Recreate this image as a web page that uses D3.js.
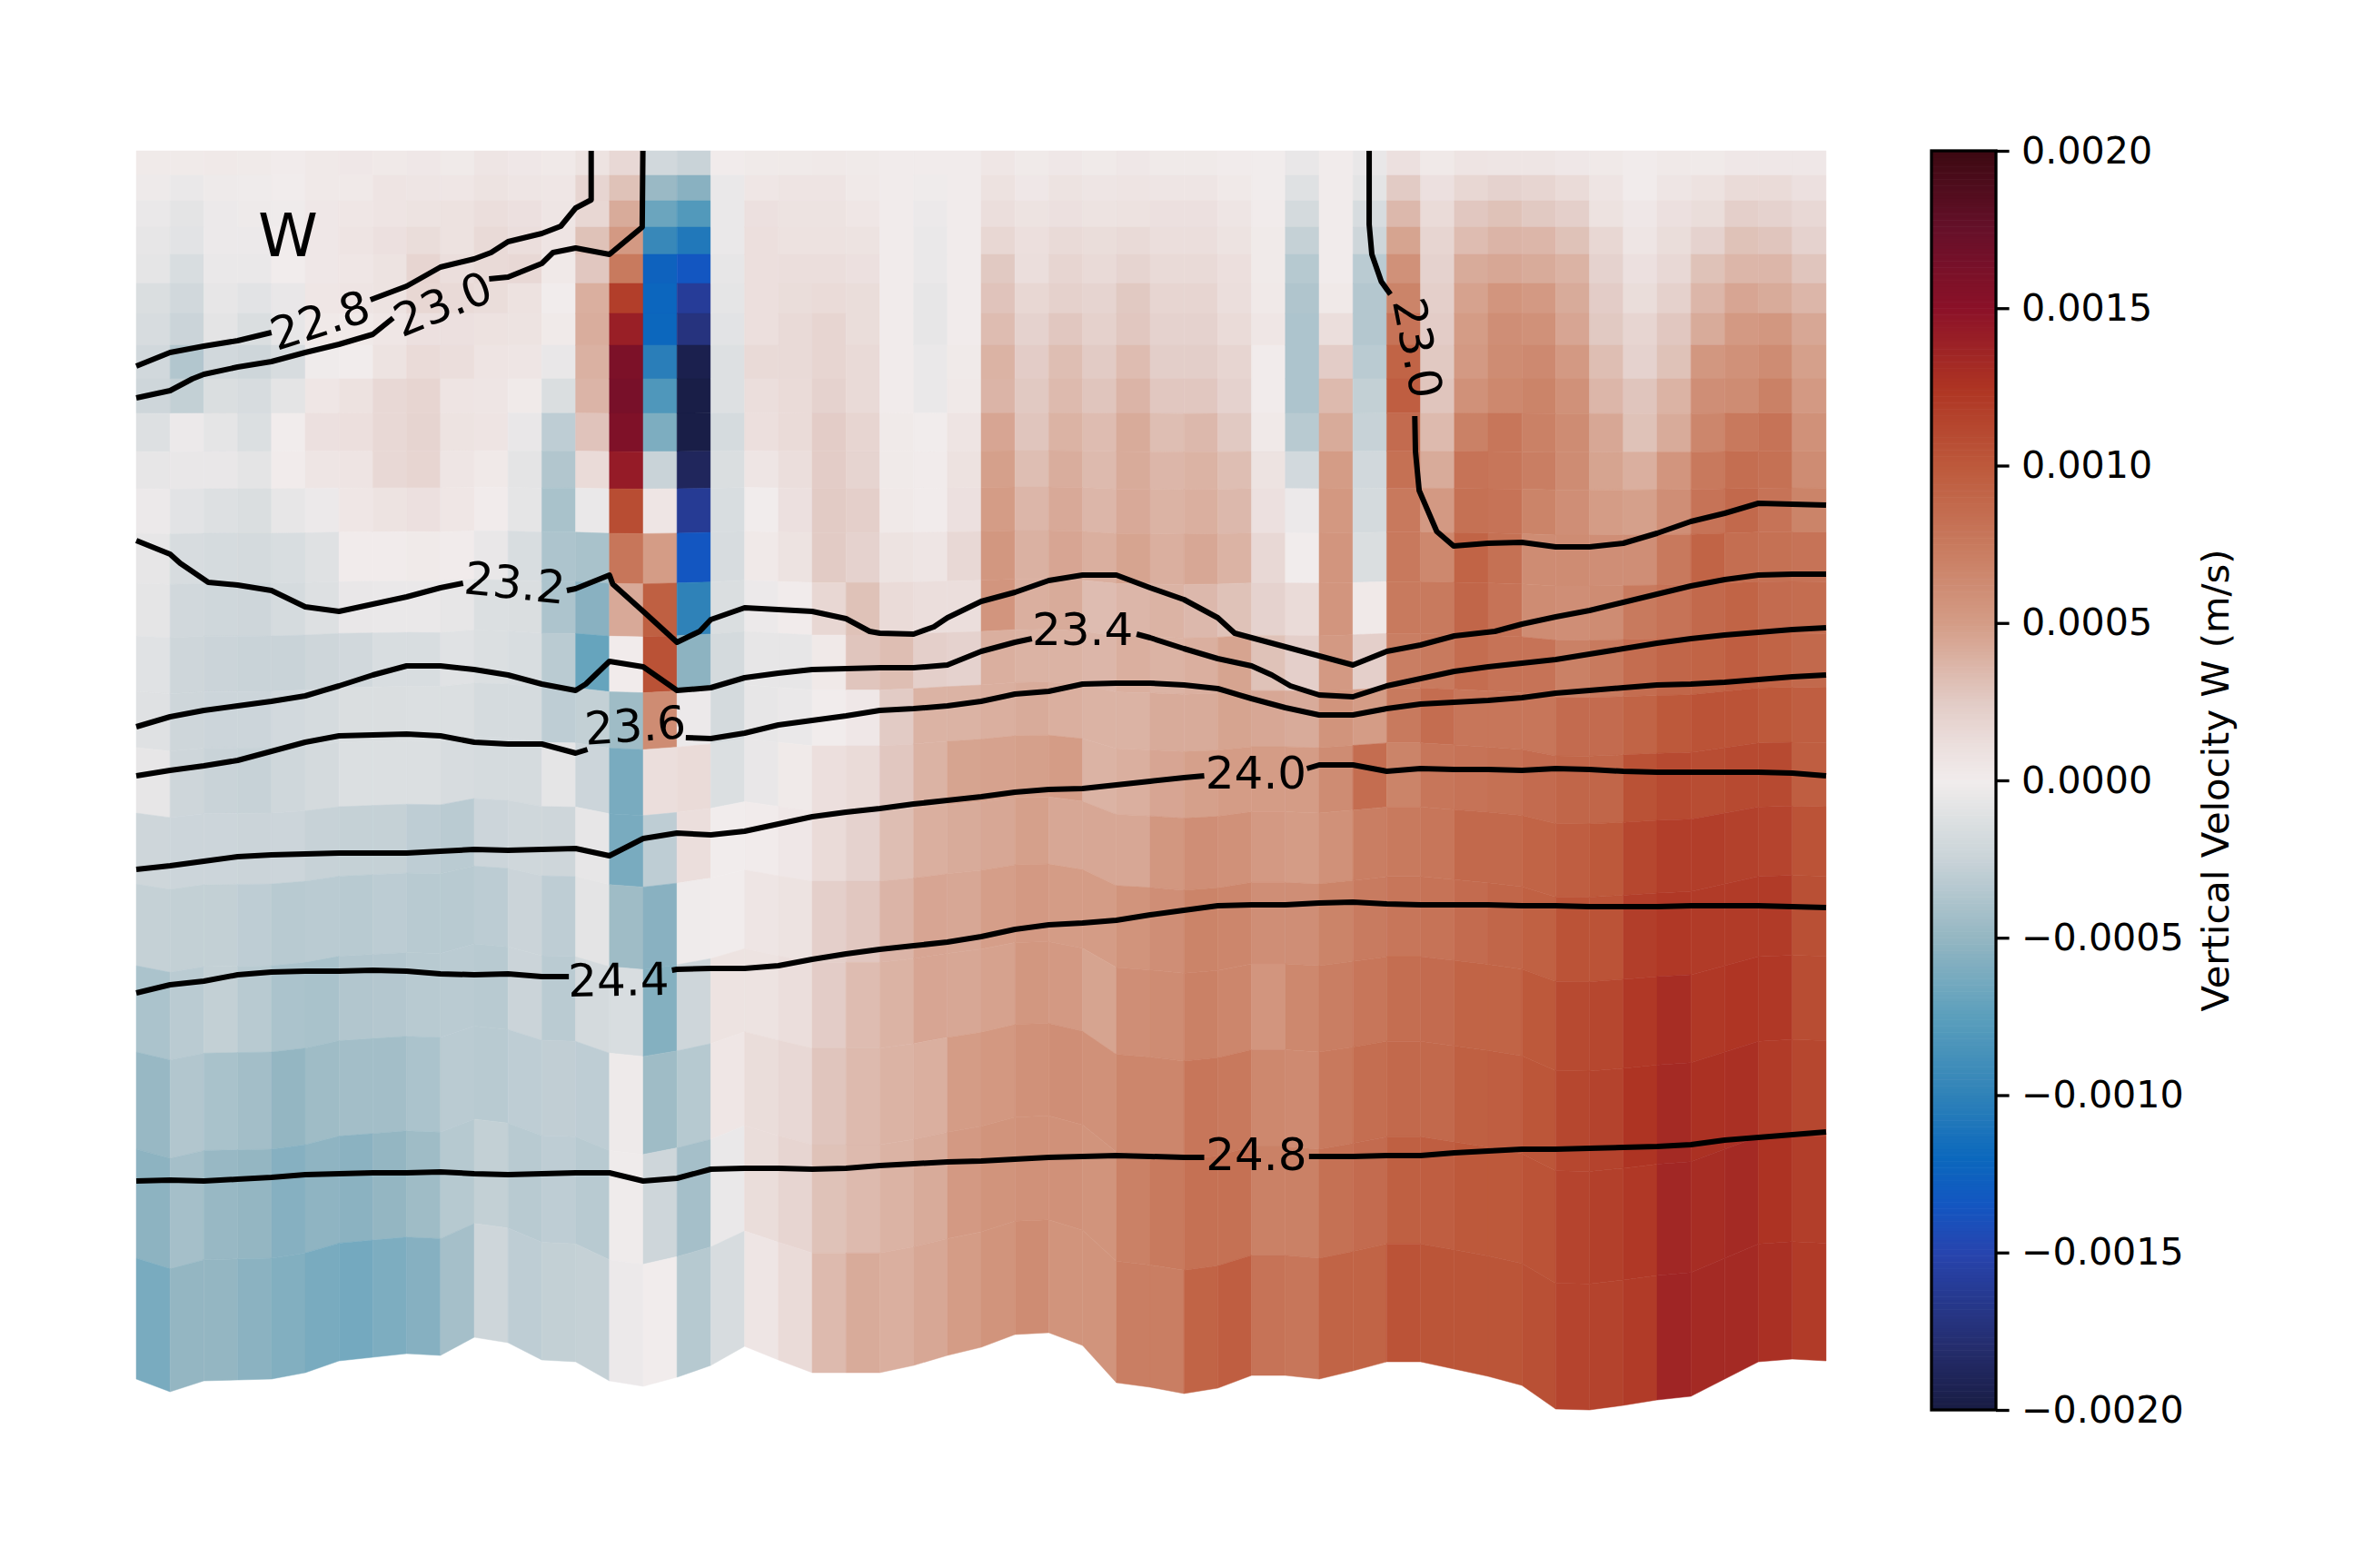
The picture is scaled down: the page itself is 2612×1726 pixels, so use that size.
<!DOCTYPE html>
<html>
<head>
<meta charset="utf-8">
<style>
body { margin: 0; background: white; }
text { font-family: "DejaVu Sans", sans-serif; fill: black; }
</style>
</head>
<body>
<svg id="chart"></svg>
<script src="https://cdn.jsdelivr.net/npm/d3@7"></script>
<script>
// Dimensions
const width = 2612;
const height = 1726;
const margin = { top: 166, right: 602, bottom: 174, left: 150 };
const bar = { left: 2126, right: 2197 };

// Bottom of the section at each column edge
const bottomDepth = [1352,1366,1354,1353,1352,1345,1332,1328,1324,1326,1306,1312,1331,1333,1354,1360,1350,1337,1316,1331,1345,1345,1345,1337,1326,1317,1303,1301,1315,1356,1361,1368,1362,1348,1348,1352,1343,1333,1333,1341,1349,1359,1385,1386,1381,1375,1371,1352,1333,1330,1332];

// Model levels: depth over a reference bottom, and how much each one follows the bottom
const levelDepth = [0,27,55,84,114,146,179,214,251,289,331,372,421,476,534,595,657,729,807,897,992,1099,1219,1352];
const levelFollow = [0,0,0,0,0,0,0,0,0,0.01,0.02,0.04,0.06,0.09,0.14,0.2,0.27,0.35,0.43,0.52,0.62,0.72,0.83,1];
const refBottom = 1352;

// Vertical velocity per column, top row first, in 1e-5 m/s
const wColumns = [
[2,-2,-4,-6,-7,-14,-16,-20,-22,-12,-6,-3,-6,-7,-10,-11,-6,-22,-27,-39,-48,-53,-62],
[2,-4,-8,-9,-15,-20,-24,-36,-28,-3,-5,-9,-16,-20,-22,-22,-22,-23,-28,-32,-36,-42,-50],
[3,-2,-3,-3,-4,-6,-8,-20,-14,-7,-5,-12,-17,-21,-24,-23,-25,-23,-28,-28,-40,-48,-50],
[2,-1,-2,-3,-4,-9,-14,-22,-16,-13,-8,-14,-18,-22,-25,-23,-26,-24,-30,-33,-43,-50,-54],
[1,0,-1,0,0,-5,-6,-16,-8,0,1,-6,-15,-17,-25,-19,-21,-23,-33,-39,-50,-56,-58],
[3,3,4,4,4,5,3,-1,5,10,6,-3,-11,-12,-22,-17,-18,-26,-32,-40,-45,-52,-62],
[4,3,5,7,5,7,3,0,9,11,7,5,1,-5,-20,-14,-13,-27,-33,-36,-43,-54,-64],
[3,7,7,10,8,8,5,8,16,16,16,8,1,-4,-15,-14,-13,-27,-31,-35,-43,-50,-60],
[4,6,8,13,18,17,10,14,18,19,18,10,2,-4,-15,-13,-13,-30,-33,-33,-39,-45,-56],
[2,5,9,9,12,15,10,12,7,8,6,5,1,-6,-10,-13,-16,-32,-33,-32,-32,-34,-42],
[6,8,12,15,15,13,9,7,6,7,3,1,-5,-13,-13,-17,-17,-23,-31,-33,-33,-28,-22],
[4,6,10,12,16,9,8,6,2,-5,-8,-7,-15,-14,-15,-17,-17,-21,-24,-24,-30,-33,-30],
[3,5,6,7,3,0,2,-5,-14,-30,-36,-40,-38,-38,-32,-30,-7,-22,-30,-32,-29,-30,-28],
[8,18,17,30,27,40,41,39,37,29,14,-4,-40,-55,-70,-28,-23,-6,-8,-18,-30,-33,-27],
[16,30,42,52,75,118,140,160,163,158,143,108,78,43,1,-45,-62,-62,-45,-15,-2,-1,-3],
[-20,-47,-68,-95,-125,-122,-121,-103,-82,-60,-25,6,50,95,105,62,12,-30,-55,-57,-45,-22,0],
[-25,-55,-80,-108,-135,-160,-172,-195,-198,-198,-188,-162,-135,-100,-53,-3,14,12,-1,-22,-34,-42,-34],
[1,-4,-4,-4,-6,-7,-9,-12,-12,-17,-14,-15,-16,-14,-18,-18,-13,0,0,8,5,-4,-16],
[2,5,10,11,11,11,11,15,12,11,6,0,3,-3,-6,-6,-5,1,6,8,13,13,6],
[2,7,8,9,12,13,15,15,14,14,12,10,8,1,-6,-4,2,4,8,12,16,18,14],
[3,7,8,9,12,14,18,18,20,24,24,25,25,17,3,0,11,14,22,24,28,30,34],
[2,3,5,8,10,13,13,15,15,18,19,22,20,30,28,4,14,20,27,33,34,34,42],
[1,1,1,1,1,1,1,1,1,2,2,3,8,14,32,25,27,32,37,38,38,38,40],
[1,-1,-3,-4,-4,-6,-6,-4,-4,0,1,1,6,12,22,38,38,40,45,45,40,42,44],
[1,1,1,1,1,1,1,2,3,7,9,10,16,12,20,38,46,42,44,44,50,52,50],
[5,9,12,17,26,29,33,38,37,45,48,50,54,55,40,40,47,44,49,47,53,56,56],
[2,4,8,11,12,17,20,24,26,28,32,36,39,40,38,42,48,48,52,54,58,58,62],
[4,8,10,15,18,21,27,32,34,38,41,43,45,42,38,40,50,44,50,52,60,58,56],
[2,6,8,13,15,19,21,25,28,33,34,36,40,33,36,38,38,44,50,46,58,56,56],
[4,7,9,15,19,26,27,33,37,42,42,43,46,36,40,38,40,44,56,60,66,70,72],
[2,6,10,12,15,18,20,23,27,32,36,38,40,38,38,42,45,54,60,62,66,75,72],
[2,6,10,12,15,18,20,23,27,35,38,40,44,35,40,42,48,60,68,70,78,82,92],
[1,3,6,8,11,12,14,18,20,26,32,35,38,30,46,46,50,58,66,66,76,82,96],
[0,0,1,2,2,3,5,1,1,3,8,10,16,20,30,44,50,52,60,55,65,70,80],
[-5,-11,-18,-27,-34,-37,-38,-38,-38,-33,-19,-3,0,14,22,42,50,50,60,65,63,70,78],
[1,1,1,1,1,3,12,24,34,42,50,53,55,55,52,56,62,58,68,72,76,82,92],
[-5,-8,-16,-22,-32,-35,-35,-32,-28,-26,-20,-18,-14,3,22,50,85,72,74,78,84,86,92],
[10,25,35,46,58,68,80,92,96,86,82,76,76,75,72,75,68,75,78,84,88,95,104],
[3,10,14,18,20,22,24,26,28,34,42,52,65,75,75,85,78,78,80,86,88,96,103],
[7,17,27,33,42,47,50,52,58,70,80,82,92,90,85,78,80,88,86,92,95,100,103],
[6,20,30,37,44,55,60,62,65,78,78,80,82,80,80,78,82,88,90,92,96,100,103],
[6,18,26,36,42,52,58,64,68,70,72,68,62,62,80,78,86,92,94,100,102,104,106],
[4,14,22,30,38,42,45,52,58,62,62,60,62,60,70,86,90,96,104,110,112,114,114],
[3,7,9,17,20,24,26,32,36,44,46,50,60,62,75,86,90,100,104,112,115,117,115],
[1,1,4,6,10,13,18,20,28,30,40,48,60,75,85,92,105,112,118,122,125,122,120],
[3,6,10,13,16,21,27,30,38,42,55,60,76,80,90,100,110,118,122,130,132,134,136],
[2,9,13,20,30,36,42,54,60,66,76,80,92,88,92,104,108,118,120,122,127,130,132],
[4,14,22,30,36,45,52,58,62,76,84,88,84,92,96,104,110,116,120,124,128,132,132],
[4,14,20,28,36,42,54,62,70,80,82,80,82,86,92,100,110,114,120,122,120,126,128],
[4,10,16,20,28,36,44,48,52,58,62,68,80,85,88,96,96,104,106,108,112,118,120]
];

// Colour ramp, in 1e-5 m/s
const rampValues = [-200,-180,-150,-135,-120,-100,-75,-50,-25,-12,0,12,25,50,75,100,125,150,175,200];
const rampColors = ["#181c43","#252d6d","#2744ae","#1356c1","#0b68bd","#2f82b8","#5b9fbc","#94b6c2","#c9d3d8","#dde0e2","#f1ecec","#ebdedc","#e2cbc5","#d49c86","#c87a5e","#bd593b","#ae3423","#8b1128","#661029","#3c0912"];

// Colour bar ticks
const barTicks = [-0.002,-0.0015,-0.001,-0.0005,0,0.0005,0.001,0.0015,0.002];

// Contours as [column edge, depth], one list per stretch between labels
const contour228a = [[0,237],[1,222],[2,215],[3,209],[4,200]];
const contour228b = [[6.93,164],[8,149],[9,128],[10,119],[10.5,112],[11,100],[12,91],[12.56,83],[13,63],[13.46,54],[13.46,0]];
const contour230a = [[0,272],[1,264],[1.66,251],[2,246],[3,238],[4,232],[5,222],[6,213],[7,202],[7.6,184]];
const contour230b = [[10.44,141],[11,139],[12,124],[12.33,112],[13,107],[14,114],[14.97,84],[14.99,0]];
const contour230c = [[36.48,0],[36.48,81],[36.56,114],[36.84,144],[37.11,158]];
const contour230d = [[37.83,292],[37.85,331],[37.96,374],[38.48,419],[38.98,435],[40,432],[41,431],[42,436],[43,436],[44,432],[45,421],[46,408],[47,399],[48,388],[50,390]];
const contour232a = [[0,429],[1,444],[1.3,454],[2.13,475],[3,478],[4,484],[5,502],[6,507],[7,499],[8,491],[9,481],[9.67,476]];
const contour232b = [[12.74,484],[13,482],[14,467],[14.1,477],[15,507],[16,541],[16.67,529],[17,516],[18,503],[19,505],[20,507],[21,515],[21.7,529],[22,531],[23,532],[23.6,524],[24,514],[25,496],[26,486],[27,473],[28,467],[29,467],[30,481],[31,494],[32,514],[32.5,531],[33,536],[34,546],[35,556],[36,566],[37,551],[38,544],[39,534],[40.2,529],[41,521],[42,513],[43,506],[44,497],[45,488],[46,479],[47,472],[48,467],[49,466],[50,466]];
const contour234a = [[0,634],[1,623],[2,616],[3,611],[4,606],[5,600],[6,589],[7,577],[8,567],[9,567],[10,571],[11,577],[12,587],[13,594],[13.3,587],[14,562],[15,568],[16,594],[17,591],[18,580],[19,575],[20,571],[21,570],[22,569],[23,569],[24,566],[25,551],[26,541],[26.5,537]];
const contour234b = [[29.6,532],[30,536],[31,548],[32,559],[33,567],[33.6,577],[34.15,589],[35,599],[36,601],[37,589],[38,581],[39,573],[40,568],[41,564],[42,560],[43,554],[44,548],[45,542],[46,537],[47,533],[48,530],[49,527],[50,525]];
const contour236a = [[0,688],[1,682],[2,677],[3,671],[4,661],[5,651],[6,644],[7,643],[8,642],[9,644],[10,651],[11,653],[12,653],[13,663],[13.35,659]];
const contour236b = [[16.26,646],[17,647],[18,641],[19,632],[20,627],[21,622],[22,616],[23,614],[24,611],[25,606],[26,598],[27,595],[28,587],[29,586],[30,586],[31,588],[32,592],[33,603],[34,613],[35,621],[36,621],[37,614],[38,609],[39,607],[40,605],[41,602],[42,597],[43,594],[44,591],[45,588],[46,587],[47,585],[48,582],[49,579],[50,577]];
const contour240a = [[0,791],[1,787],[2,782],[3,777],[4,775],[5,774],[6,773],[7,773],[8,773],[9,771],[10,769],[11,770],[12,769],[13,768],[14,776],[15,757],[16,751],[17,753],[18,749],[19,741],[20,733],[21,728],[22,724],[23,719],[24,715],[25,711],[26,706],[27,703],[28,702],[29,698],[30,694],[31,690],[31.6,688]];
const contour240b = [[34.64,680],[35,676],[36,676],[37,683],[38,680],[39,681],[40,681],[41,682],[42,680],[43,681],[44,683],[45,684],[46,684],[47,684],[48,684],[49,685],[50,688]];
const contour244a = [[0,927],[1,918],[2,914],[3,907],[4,904],[5,903],[6,903],[7,902],[8,903],[9,906],[10,907],[11,906],[12,909],[12.8,909]];
const contour244b = [[15.85,902],[16,901],[17,900],[18,900],[19,897],[20,890],[21,884],[22,879],[23,875],[24,871],[25,865],[26,857],[27,852],[28,850],[29,847],[30,841],[31,836],[32,831],[33,830],[34,830],[35,828],[36,827],[37,829],[38,830],[39,830],[40,830],[41,831],[42,831],[43,832],[44,832],[45,832],[46,831],[47,831],[48,831],[49,832],[50,833]];
const contour248a = [[0,1134],[1,1133],[2,1134],[3,1132],[4,1130],[5,1127],[6,1126],[7,1125],[8,1125],[9,1124],[10,1126],[11,1127],[12,1126],[13,1125],[14,1125],[15,1134],[16,1131],[17,1121],[18,1120],[19,1120],[20,1121],[21,1120],[22,1117],[23,1115],[24,1113],[25,1112],[26,1110],[27,1108],[28,1107],[29,1106],[30,1107],[31,1108],[31.6,1108]];
const contour248b = [[34.7,1107],[35,1107],[36,1107],[37,1106],[38,1106],[39,1103],[40,1101],[41,1099],[42,1099],[43,1098],[44,1097],[45,1096],[46,1094],[47,1089],[48,1086],[49,1083],[50,1080]];

// Contour labels
const labelTexts = ["22.8","23.0","23.2","23.6","24.4","23.4","24.0","24.8","23.0"];
const labelX = [5.43,9.06,11.2,14.76,14.27,28.0,33.13,33.14,37.93];
const labelDepth = [186,168,475,632,912,526,684,1104,217];
const labelAngle = [-18,-22,6,-4,-1,0,0,0,79];

const svg = d3.select("#chart")
    .attr("width", width)
    .attr("height", height);

const x = d3.scaleLinear()
    .domain([0, wColumns.length])
    .range([margin.left, width - margin.right]);

const y = d3.scaleLinear()
    .domain([0, 1386])
    .range([margin.top, height - margin.bottom]);

const color = d3.scaleLinear()
    .domain(rampValues)
    .range(rampColors)
    .interpolate(d3.interpolateRgb);

// Depth of level k at column edge c
function levelAt(k, c) {
    return levelDepth[k] + levelFollow[k] * (bottomDepth[c] - refBottom);
}

// Cells
const cells = [];
wColumns.forEach((col, c) => {
    col.forEach((w, r) => {
        cells.push({ c: c, r: r, w: w });
    });
});

const cellPath = d => {
    const p = d3.path();
    p.moveTo(x(d.c), y(levelAt(d.r, d.c)));
    p.lineTo(x(d.c + 1), y(levelAt(d.r, d.c + 1)));
    p.lineTo(x(d.c + 1), y(levelAt(d.r + 1, d.c + 1)));
    p.lineTo(x(d.c), y(levelAt(d.r + 1, d.c)));
    p.closePath();
    return p.toString();
};

svg.append("g")
    .selectAll("path")
    .data(cells)
    .join("path")
    .attr("d", cellPath)
    .attr("fill", d => color(d.w))
    .attr("stroke", d => color(d.w))
    .attr("stroke-width", 0.5);

// Contours
const contours = [contour228a, contour228b, contour230a, contour230b, contour230c, contour230d,
    contour232a, contour232b, contour234a, contour234b, contour236a, contour236b,
    contour240a, contour240b, contour244a, contour244b, contour248a, contour248b];

const line = d3.line()
    .x(d => x(d[0]))
    .y(d => y(d[1]));

svg.append("g")
    .selectAll("path")
    .data(contours)
    .join("path")
    .attr("d", line)
    .attr("fill", "none")
    .attr("stroke", "black")
    .attr("stroke-width", 6)
    .attr("stroke-linejoin", "round");

svg.append("g")
    .selectAll("text")
    .data(labelTexts)
    .join("text")
    .attr("transform", (d, i) => `translate(${x(labelX[i])},${y(labelDepth[i])}) rotate(${labelAngle[i]})`)
    .attr("text-anchor", "middle")
    .attr("dy", "0.36em")
    .attr("font-size", 50)
    .text(d => d);

svg.append("text")
    .attr("x", x(4.49))
    .attr("y", y(116))
    .attr("text-anchor", "middle")
    .attr("font-size", 66.7)
    .text("W");

// Colour bar
const barScale = d3.scaleLinear()
    .domain([-0.002, 0.002])
    .range([height - margin.bottom, margin.top]);

const barSteps = d3.range(-200, 200, 1);

svg.append("g")
    .selectAll("rect")
    .data(barSteps)
    .join("rect")
    .attr("x", bar.left)
    .attr("y", d => barScale((d + 1) / 1e5))
    .attr("width", bar.right - bar.left)
    .attr("height", d => barScale(d / 1e5) - barScale((d + 1) / 1e5) + 0.6)
    .attr("fill", d => color(d + 0.5));

svg.append("rect")
    .attr("x", bar.left)
    .attr("y", margin.top)
    .attr("width", bar.right - bar.left)
    .attr("height", height - margin.top - margin.bottom)
    .attr("fill", "none")
    .attr("stroke", "black")
    .attr("stroke-width", 3.3);

const barAxis = svg.append("g")
    .attr("transform", `translate(${bar.right},0)`)
    .call(d3.axisRight(barScale)
        .tickValues(barTicks)
        .tickFormat(d3.format(".4f"))
        .tickSize(14.6)
        .tickPadding(13.5));

barAxis.select(".domain").remove();
barAxis.selectAll("line").attr("stroke", "black").attr("stroke-width", 3.3);
barAxis.selectAll("text")
    .attr("font-family", "DejaVu Sans")
    .attr("font-size", 41.2)
    .attr("fill", "black");

svg.append("text")
    .attr("transform", `translate(2453,${(margin.top + height - margin.bottom) / 2}) rotate(-90)`)
    .attr("text-anchor", "middle")
    .attr("font-size", 41.67)
    .text("Vertical Velocity W (m/s)");
</script>
</body>
</html>
